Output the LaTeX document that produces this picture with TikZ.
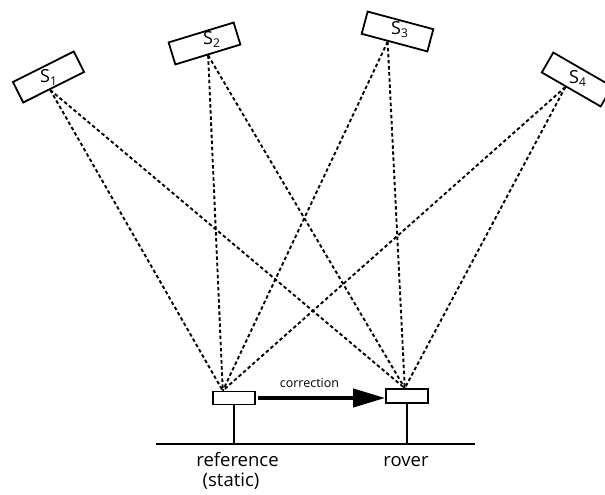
\documentclass[tikz,border=0pt]{standalone}
\usepackage{fontspec}
\setmainfont{Open Sans}
\usetikzlibrary{arrows.meta}
\begin{document}
\begin{tikzpicture}[x=1pt,y=-1pt,
  sat/.style={draw, line width=1.8pt, minimum width=68pt, minimum height=23pt, inner sep=0pt},
  rx/.style={draw, line width=1.6pt, minimum width=42pt, inner sep=0pt},
  ray/.style={line width=1.9pt, dash pattern=on 3.5pt off 2.6pt},
  slabel/.style={anchor=base west, inner sep=0pt, font=\fontsize{18}{18}\selectfont},
  txt/.style={inner sep=0pt, anchor=base, font=\fontsize{18.5}{20}\selectfont},
  small/.style={inner sep=0pt, anchor=base, font=\fontsize{12.5}{14}\selectfont},
  solidline/.style={line width=1.6pt},
  corrarrow/.style={line width=4pt, -{Triangle[length=32pt,width=18pt]}},
]
\clip (0,0) rectangle (605,495);
% satellites
\node[sat, rotate=26.6] (s1) at (48.5,77) {};
\node[sat, rotate=17] (s2) at (204.5,43.5) {};
\node[sat, rotate=-15] (s3) at (397.5,31.5) {};
\node[sat, rotate=-30] (s4) at (577,79.5) {};
\node[slabel] (l1) at (40,82) {S\raisebox{-3pt}{\fontsize{12}{12}\selectfont 1}};
\node[slabel] (l2) at (203,45) {S\raisebox{-3pt}{\fontsize{12}{12}\selectfont 2}};
\node[slabel] (l3) at (391,35) {S\raisebox{-3pt}{\fontsize{12}{12}\selectfont 3}};
\node[slabel] (l4) at (569,83) {S\raisebox{-3pt}{\fontsize{12}{12}\selectfont 4}};
% receivers
\node[rx, minimum height=13pt] (ref) at (234,398) {};
\node[rx, minimum height=14pt] (rover) at (407,396) {};
% rays
\foreach \s/\a in {s1/251, s2/270, s3/241, s4/243}{
  \draw[ray] (\s.\a) -- (ref.147);
  \draw[ray] (\s.\a) -- (rover.106);
}
% ground and stems
\coordinate (gl) at (156,444);
\coordinate (gr) at (475,444);
\draw[solidline] (gl) -- (gr);
\draw[solidline] (ref.south) -- (ref.south |- gl);
\draw[solidline] (rover.south) -- (rover.south |- gl);
% correction arrow
\draw[corrarrow] ([xshift=2pt]ref.east) -- (ref.east -| rover.west);
\node[small] (corr) at (309.5,387) {correction};
% labels
\node[txt] (reflab) at (237.5,466) {reference};
\node[txt] (statlab) at (231,486) {(static)};
\node[txt] (roverlab) at (406,466) {rover};
\end{tikzpicture}
\end{document}
